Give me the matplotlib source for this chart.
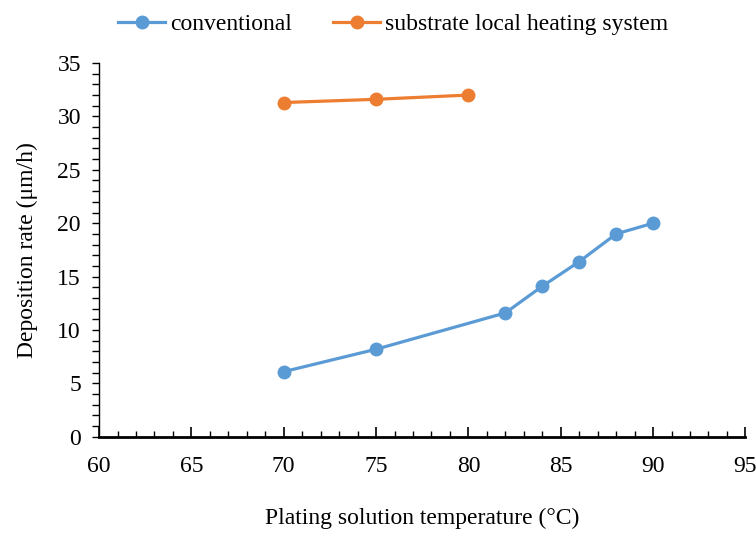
import matplotlib.pyplot as plt
from matplotlib.ticker import MultipleLocator

# data
conv_temp = [70, 75, 82, 84, 86, 88, 90]
conv_rate = [6.1, 8.2, 11.6, 14.1, 16.4, 19.0, 20.0]
local_temp = [70, 75, 80]
local_rate = [31.3, 31.6, 32.0]

plt.rcParams['font.family'] = ['Liberation Serif', 'DejaVu Serif']

fig = plt.figure(figsize=(7.56, 5.34), dpi=100)
ax = fig.add_axes([0.131, 0.182, 0.855, 0.70])

ax.plot(conv_temp, conv_rate, color='#5B9BD5', lw=2.3, marker='o', ms=9,
        label='conventional')
ax.plot(local_temp, local_rate, color='#ED7D31', lw=2.3, marker='o', ms=9,
        label='substrate local heating system')

ax.set_xlim(60, 95)
ax.set_ylim(0, 35)
ax.xaxis.set_major_locator(MultipleLocator(5))
ax.xaxis.set_minor_locator(MultipleLocator(1))
ax.yaxis.set_major_locator(MultipleLocator(5))
ax.yaxis.set_minor_locator(MultipleLocator(1))

ax.spines['top'].set_visible(False)
ax.spines['right'].set_visible(False)
ax.spines['bottom'].set_linewidth(2)
ax.spines['left'].set_linewidth(1)

ax.tick_params(axis='x', which='major', direction='in', length=7, width=1.2,
               labelsize=17, pad=14)
ax.tick_params(axis='x', which='minor', direction='in', length=4, width=1)
ax.tick_params(axis='y', which='both', direction='out', length=5, width=1,
               labelsize=17, pad=8)

ax.set_xlabel('Plating solution temperature (°C)', fontsize=17, labelpad=22)
ax.set_ylabel('Deposition rate (μm/h)', fontsize=17, labelpad=14)

fig.legend(loc='upper center', bbox_to_anchor=(0.52, 1.015), ncol=2,
           frameon=False, fontsize=17, handlelength=2.0, handletextpad=0.2,
           columnspacing=1.75)

fig.savefig('out.png', dpi=100)
